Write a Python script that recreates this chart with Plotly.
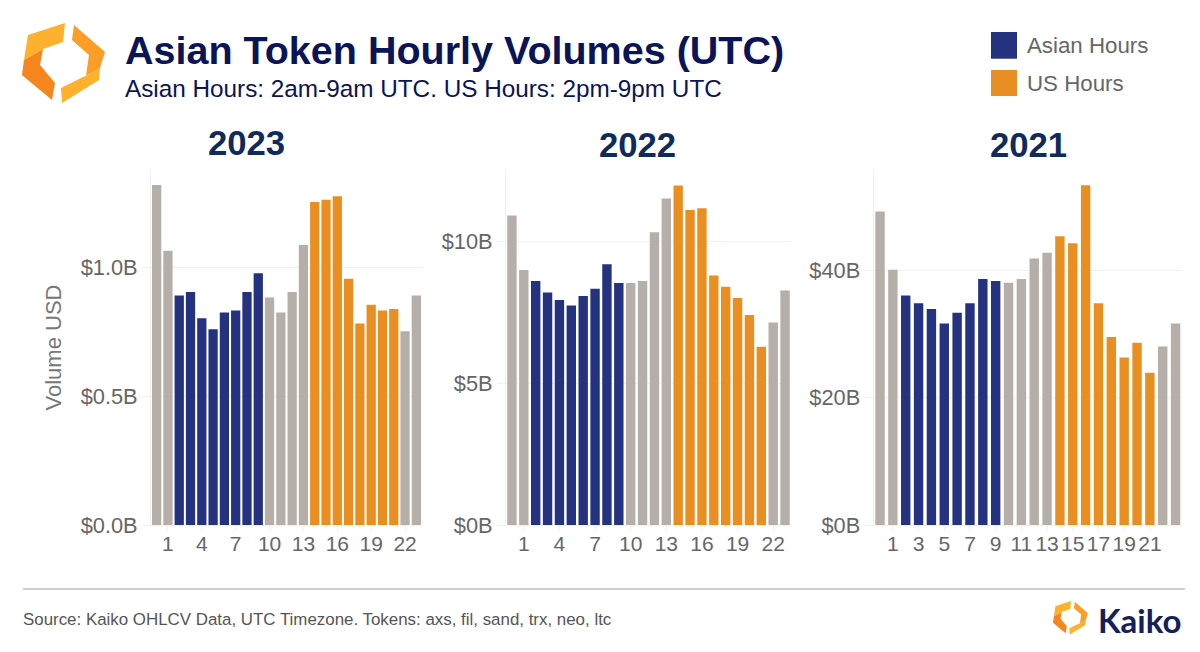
import plotly.graph_objects as go
from plotly.subplots import make_subplots

# the page puts the figure 8px in from the corner, so keep it inside the window
OFFSET = 8
WIDTH = 1200 - OFFSET
HEIGHT = 652 - OFFSET

hours = list(range(24))
asian_hours = [2, 3, 4, 5, 6, 7, 8, 9]
us_hours = [14, 15, 16, 17, 18, 19, 20, 21]

volumes_2023 = [1.322, 1.066, 0.892, 0.906, 0.804, 0.761, 0.826, 0.834, 0.906, 0.979, 0.884, 0.826,
                0.906, 1.088, 1.256, 1.264, 1.278, 0.957, 0.783, 0.856, 0.834, 0.840, 0.753, 0.892]
volumes_2022 = [10.92, 9.0, 8.61, 8.21, 7.94, 7.75, 8.08, 8.34, 9.2, 8.54, 8.54, 8.61,
                10.33, 11.52, 11.98, 11.12, 11.18, 8.81, 8.41, 8.01, 7.41, 6.29, 7.15, 8.28]
volumes_2021 = [49.2, 40.05, 36.0, 34.8, 33.9, 31.6, 33.3, 34.8, 38.6, 38.3, 38.0, 38.6,
                41.8, 42.7, 45.3, 44.2, 53.3, 34.8, 29.5, 26.3, 28.6, 23.9, 28.0, 31.6]

years = ["2023", "2022", "2021"]
series = [volumes_2023, volumes_2022, volumes_2021]

y_ticks = [[0, 0.5, 1.0], [0, 5, 10], [0, 20, 40]]
y_labels = [["$0.0B", "$0.5B", "$1.0B"], ["$0B", "$5B", "$10B"], ["$0B", "$20B", "$40B"]]
y_ranges = [[0, 1.38], [0, 12.53], [0, 55.7]]
x_ticks = [[1, 4, 7, 10, 13, 16, 19, 22],
           [1, 4, 7, 10, 13, 16, 19, 22],
           [1, 3, 5, 7, 9, 11, 13, 15, 17, 19, 21]]

# plot areas in pixels, left/right edges
x_spans = [(151, 422), (506, 791), (873.6, 1182)]
bar_widths = [0.82, 0.79, 0.73]
y_top = 170
y_bottom = 525

BLUE = "#25327f"
ORANGE = "#e98f22"
GREY = "#b6aea9"
NAVY = "#0b1455"
YEAR_BLUE = "#0f2a5c"
TEXT_GREY = "#666666"
FAINT = "#f0f0f0"
FONT = "Liberation Sans"


def px_x(x):
    return (x - OFFSET) / WIDTH


def px_y(y):
    return 1 - (y - OFFSET) / HEIGHT


def polygon(points, color):
    path = "M " + " L ".join(f"{px_x(x):.5f},{px_y(y):.5f}" for x, y in points) + " Z"
    return dict(type="path", path=path, xref="paper", yref="paper",
                fillcolor=color, line=dict(width=0), layer="above")


def logo(left, top, scale):
    # pieces of the hexagon mark, drawn in the coordinates of the big logo
    yellow = "#fdb12c"
    orange = "#f7851e"
    pieces = [
        ([(28, 35), (65, 23), (63, 42), (43, 49), (38, 52), (24, 60)], yellow),
        ([(24, 60), (38, 52), (43, 49), (40, 65), (55, 83), (52, 100), (22, 75)], orange),
        ([(74, 25), (105, 52), (100, 68), (86, 76), (89, 55), (72, 40)], "#fb9d26"),
        ([(100, 68), (99, 80), (62, 103), (61, 88), (83, 77), (86, 76)], yellow),
    ]
    shapes = []
    for points, color in pieces:
        moved = [(left + (x - 22) * scale, top + (y - 23) * scale) for x, y in points]
        shapes.append(polygon(moved, color))
    return shapes


def label(text, x, y, size, color, anchor="left", bold=False, family=FONT):
    if bold:
        text = f"<b>{text}</b>"
    return dict(text=text, x=px_x(x), y=px_y(y), xref="paper", yref="paper",
                xanchor=anchor, yanchor="middle", showarrow=False,
                font=dict(size=size, color=color, family=family))


fig = make_subplots(rows=1, cols=3)

for i, values in enumerate(series):
    colors = []
    for hour in hours:
        if hour in asian_hours:
            colors.append(BLUE)
        elif hour in us_hours:
            colors.append(ORANGE)
        else:
            colors.append(GREY)

    fig.add_trace(go.Bar(x=hours, y=values, width=bar_widths[i],
                         marker=dict(color=colors, line=dict(width=0)),
                         showlegend=False), row=1, col=i + 1)

    fig.update_xaxes(domain=[px_x(x_spans[i][0]), px_x(x_spans[i][1])],
                     range=[-0.5, 23.5], tickmode="array", tickvals=x_ticks[i],
                     showgrid=False, zeroline=False, showline=True, linecolor=FAINT,
                     ticks="outside", ticklen=5, tickcolor=FAINT, ticklabelstandoff=-5,
                     tickangle=0,
                     tickfont=dict(size=21, color=TEXT_GREY, family=FONT),
                     row=1, col=i + 1)
    fig.update_yaxes(domain=[px_y(y_bottom), px_y(y_top)],
                     range=y_ranges[i], tickmode="array",
                     tickvals=y_ticks[i], ticktext=y_labels[i],
                     showgrid=True, gridcolor=FAINT, zeroline=False,
                     showline=True, linecolor=FAINT,
                     ticks="outside", ticklen=8, tickcolor=FAINT,
                     tickfont=dict(size=21.8, color=TEXT_GREY, family=FONT),
                     row=1, col=i + 1)

fig.update_yaxes(title=dict(text="Volume USD", standoff=12,
                            font=dict(size=22, color="#777777", family=FONT)),
                 row=1, col=1)

shapes = logo(22, 23, 1.0) + logo(1053, 601, 0.42)
shapes += [
    dict(type="rect", xref="paper", yref="paper", x0=px_x(991), x1=px_x(1017),
         y0=px_y(58.7), y1=px_y(32), fillcolor=BLUE, line=dict(width=0)),
    dict(type="rect", xref="paper", yref="paper", x0=px_x(991), x1=px_x(1017),
         y0=px_y(96), y1=px_y(70), fillcolor=ORANGE, line=dict(width=0)),
    dict(type="line", xref="paper", yref="paper", x0=px_x(23), x1=px_x(1185),
         y0=px_y(589), y1=px_y(589), line=dict(color="#bdbdbd", width=1.5)),
]

annotations = [
    label("Asian Token Hourly Volumes (UTC)", 123, 50, 39.5, NAVY, bold=True),
    label("Asian Hours: 2am-9am UTC. US Hours: 2pm-9pm UTC", 123, 88, 24.3, NAVY),
    label("Asian Hours", 1025, 46, 22.3, TEXT_GREY),
    label("US Hours", 1025, 83, 22.3, TEXT_GREY),
    label("2023", 246, 143, 34.7, YEAR_BLUE, anchor="center", bold=True),
    label("2022", 637, 145, 34.7, YEAR_BLUE, anchor="center", bold=True),
    label("2021", 1028, 145, 34.7, YEAR_BLUE, anchor="center", bold=True),
    label("Source: Kaiko OHLCV Data, UTC Timezone. Tokens: axs, fil, sand, trx, neo, ltc",
          20.5, 619, 16.9, "#555555"),
    label("Kaiko", 1096, 620, 33, "#14205c", bold=True, family="Lato"),
]

fig.update_layout(
    width=WIDTH,
    height=HEIGHT,
    margin=dict(l=0, r=0, t=0, b=0, autoexpand=False),
    plot_bgcolor="white",
    paper_bgcolor="white",
    shapes=shapes,
    annotations=annotations,
    font=dict(family=FONT),
)

fig.write_html("out.html")
